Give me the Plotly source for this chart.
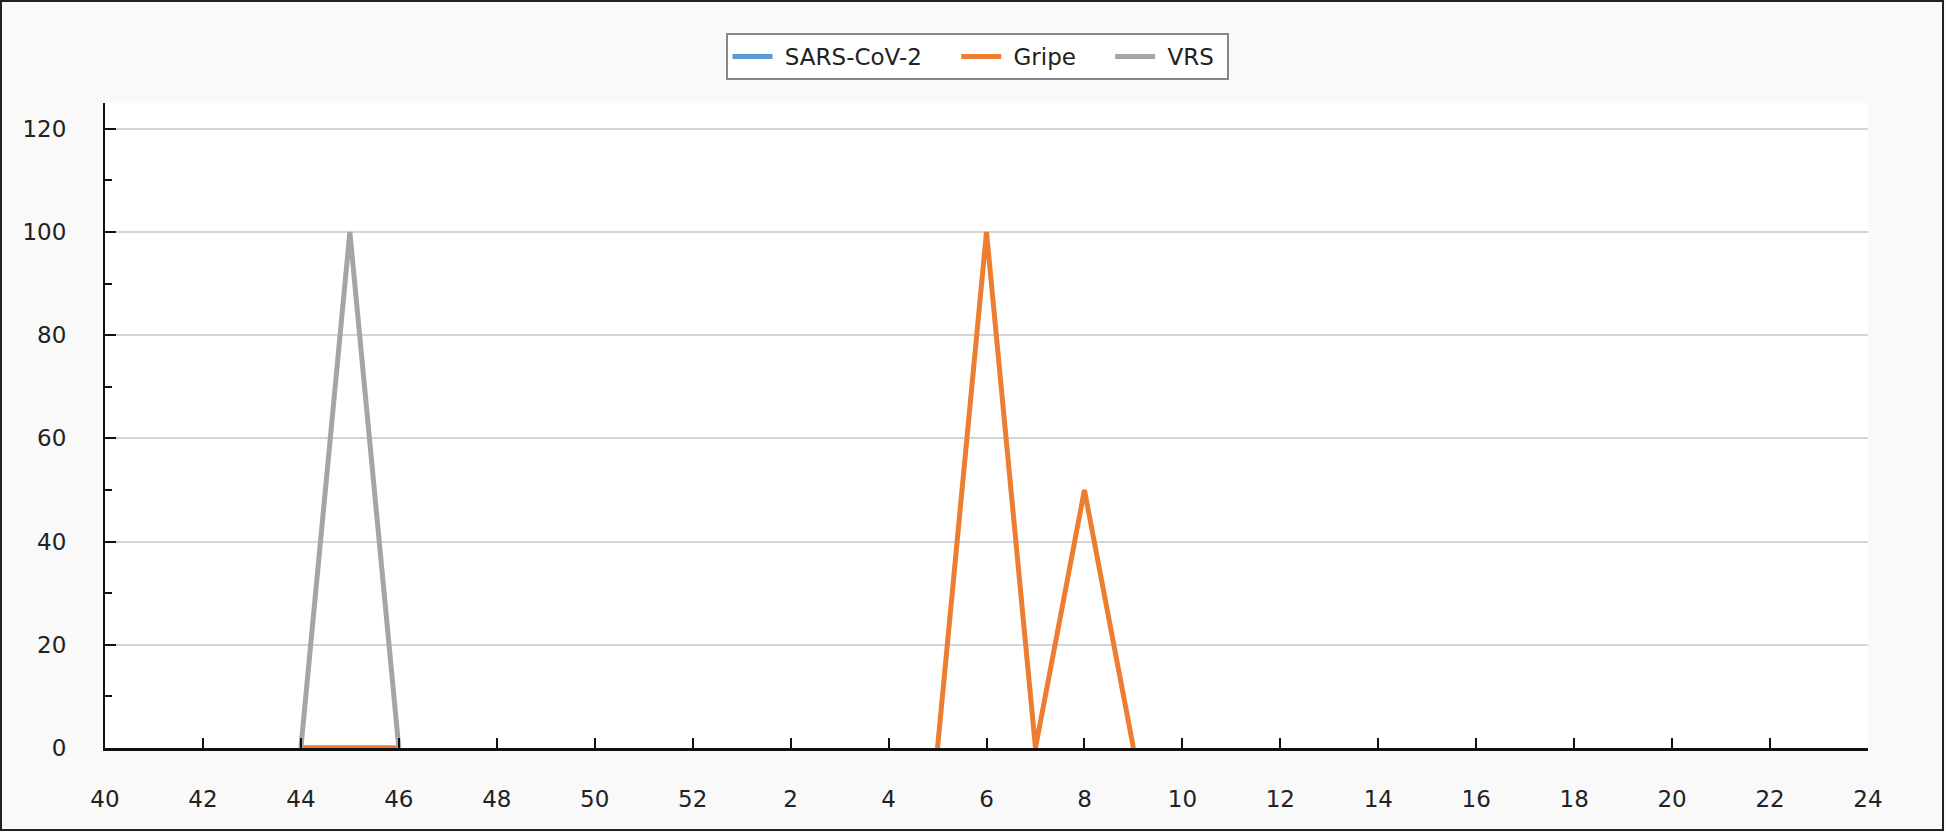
import plotly.graph_objects as go

weeks = [str(w) for w in list(range(40, 53)) + list(range(1, 25))]

def series(values):
    return [values.get(w) for w in weeks]

sars_vals = {"44": 0, "45": 0, "46": 0}
gripe_vals = {"44": 0, "45": 0, "46": 0, "5": 0, "6": 100, "7": 0, "8": 50, "9": 0}
vrs_vals = {"44": 0, "45": 100, "46": 0}

names = ["SARS-CoV-2", "Gripe", "VRS"]
colors = ["#5b9bd5", "#ed7d31", "#a5a5a5"]
data = [series(sars_vals), series(gripe_vals), series(vrs_vals)]

W, H = 1946, 832
L, R, T, B = 105, 78, 103, 84
pw, ph = W - L - R, H - T - B

NB = "\u00a0"
fig = go.Figure()
for i, (n, c, y) in enumerate(zip(names, colors, data)):
    label = NB + n + (NB * 4 if i < len(names) - 1 else NB)
    fig.add_trace(go.Scatter(x=weeks, y=y, mode="lines", name=label,
                             line=dict(color=c, width=5), connectgaps=False))

font = dict(family="DejaVu Sans", size=23, color="#222222")
fig.update_layout(
    width=W, height=H,
    margin=dict(l=L, r=R, t=T, b=B),
    paper_bgcolor="#f9f9f9", plot_bgcolor="#ffffff",
    font=font,
    showlegend=True,
    legend=dict(orientation="h", x=(977 - L) / pw, xanchor="center",
                y=(H - B - 33) / ph, yanchor="top",
                bgcolor="#ffffff", bordercolor="#888888", borderwidth=2,
                font=font, itemwidth=40, tracegroupgap=0),
    xaxis=dict(type="category", categoryorder="array", categoryarray=weeks,
               range=[0, len(weeks) - 1], dtick=2, tick0=0,
               ticks="inside", ticklen=10, tickwidth=2, tickcolor="#111111",
               showline=True, linecolor="#111111", linewidth=3,
               showgrid=False, zeroline=False, ticklabelstandoff=28,
               tickfont=font),
    yaxis=dict(range=[0, 125], dtick=20, tick0=0,
               ticks="inside", ticklen=11, tickwidth=2, tickcolor="#111111",
               showline=True, linecolor="#111111", linewidth=2,
               showgrid=True, gridcolor="#d4d4d4", gridwidth=1.5,
               zeroline=False, ticklabelstandoff=32, tickfont=font,
               minor=dict(dtick=10, ticks="inside", ticklen=7, tickwidth=2,
                          tickcolor="#111111", showgrid=False)),
    shapes=[dict(type="rect", xref="paper", yref="paper",
                 x0=(1 - L) / pw, x1=(W - 3 - L) / pw,
                 y0=-(B - 2) / ph, y1=(ph + T - 1) / ph,
                 line=dict(color="#222222", width=2), fillcolor="rgba(0,0,0,0)",
                 layer="above")],
)

fig.write_html("out.html", config={"displayModeBar": False},
               post_script="document.body.style.margin='0px';document.body.style.overflow='hidden';")
